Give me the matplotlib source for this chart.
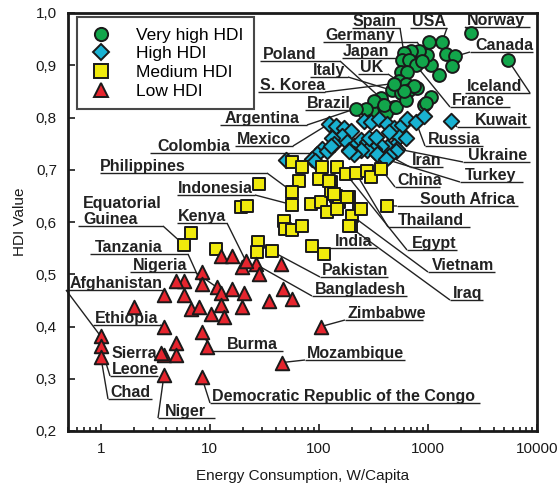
import matplotlib
matplotlib.use("Agg")
import matplotlib.pyplot as plt
from matplotlib.lines import Line2D
from matplotlib.ticker import FixedLocator, FixedFormatter, FuncFormatter, LogLocator, NullFormatter

plt.rcParams["font.family"] = ["Liberation Sans", "DejaVu Sans"]

# energy use per capita (W) and HDI, by HDI group
very_high_w = [2480, 5420, 1344, 1021, 1462, 1770, 1660, 1262, 1066, 979, 827, 698, 602, 577,
               669, 776, 881, 565, 641, 542, 628, 467, 565, 669, 793, 1066, 919, 370, 378,
               306, 488, 412, 320, 395, 508, 955, 628, 270, 218, 744, 602, 488]
very_high_hdi = [0.962, 0.910, 0.944, 0.944, 0.921, 0.917, 0.898, 0.881, 0.900, 0.919, 0.927,
                 0.927, 0.923, 0.910, 0.910, 0.900, 0.908, 0.888, 0.888, 0.869, 0.865, 0.852,
                 0.846, 0.852, 0.856, 0.840, 0.823, 0.837, 0.823, 0.813, 0.821, 0.808, 0.831,
                 0.823, 0.821, 0.827, 0.833, 0.817, 0.817, 0.860, 0.850, 0.865]

high_w = [124, 143, 170, 197, 163, 132, 107, 96, 86, 118, 137, 181, 210, 243, 275, 259, 300,
          355, 421, 488, 577, 641, 776, 919, 542, 488, 421, 370, 320, 275, 243, 210, 188, 288,
          334, 355, 439, 628, 520, 92, 129, 188, 341, 508, 1625, 439, 412, 50]
high_hdi = [0.788, 0.783, 0.779, 0.775, 0.765, 0.760, 0.740, 0.731, 0.721, 0.735, 0.750, 0.754,
            0.746, 0.756, 0.754, 0.794, 0.792, 0.798, 0.788, 0.779, 0.785, 0.798, 0.792, 0.802,
            0.763, 0.746, 0.744, 0.746, 0.740, 0.737, 0.737, 0.731, 0.737, 0.760, 0.763, 0.727,
            0.773, 0.760, 0.740, 0.717, 0.746, 0.735, 0.731, 0.735, 0.794, 0.727, 0.720, 0.719]

medium_w = [57, 70, 107, 146, 66, 57, 28.2, 57, 19.2, 21.9, 47.7, 48.7, 57, 70, 6.7, 5.8, 84,
            104, 104, 129, 129, 143, 153, 118, 146, 177, 218, 275, 300, 370, 188, 233, 201, 197,
            421, 86, 111, 27.6, 27, 37, 11.4, 100, 124, 137, 181, 243, 188]
medium_hdi = [0.715, 0.706, 0.706, 0.706, 0.679, 0.658, 0.673, 0.633, 0.629, 0.631, 0.602, 0.587,
              0.585, 0.592, 0.579, 0.556, 0.635, 0.638, 0.683, 0.677, 0.660, 0.650, 0.638, 0.619,
              0.625, 0.692, 0.694, 0.698, 0.687, 0.702, 0.648, 0.625, 0.612, 0.592, 0.631, 0.554,
              0.538, 0.562, 0.542, 0.544, 0.548, 0.683, 0.679, 0.654, 0.648, 0.625, 0.592]

low_w = [12.7, 15.8, 19.6, 26.4, 44.8, 28.2, 8.4, 5.8, 8.4, 11.6, 12.7, 15.8, 20.5, 47, 56.5,
         34.8, 2, 6.7, 7.9, 12.7, 19.6, 10.2, 13.4, 3.8, 8.4, 1, 1, 1, 3.8, 4.9, 4.9, 3.6, 9.4,
         45.8, 105, 3.8, 8.4, 3.8, 5.8, 4.9, 21.4]
low_hdi = [0.535, 0.535, 0.513, 0.519, 0.519, 0.500, 0.504, 0.487, 0.481, 0.475, 0.465, 0.471,
           0.465, 0.471, 0.452, 0.448, 0.437, 0.433, 0.437, 0.442, 0.437, 0.423, 0.418, 0.400,
           0.390, 0.381, 0.362, 0.342, 0.346, 0.369, 0.346, 0.350, 0.360, 0.331, 0.400, 0.308,
           0.304, 0.460, 0.460, 0.487, 0.525]

# labelled countries (W, HDI)
countries = {
    "Spain": (602, 0.923), "USA": (1344, 0.944), "Norway": (2480, 0.962),
    "Canada": (1770, 0.917), "Germany": (979, 0.919), "Japan": (669, 0.910),
    "Poland": (370, 0.837), "UK": (542, 0.869), "Italy": (467, 0.852),
    "S. Korea": (488, 0.865), "Brazil": (259, 0.794), "Argentina": (218, 0.817),
    "Mexico": (124, 0.788), "Colombia": (96, 0.731), "France": (776, 0.900),
    "Iceland": (5420, 0.910), "Kuwait": (1625, 0.794), "Russia": (776, 0.792),
    "Ukraine": (520, 0.740), "Iran": (439, 0.727), "Turkey": (412, 0.720),
    "China": (370, 0.702), "South Africa": (421, 0.631), "Thailand": (218, 0.694),
    "Egypt": (177, 0.692), "Vietnam": (201, 0.612), "Iraq": (188, 0.592),
    "India": (86, 0.554), "Pakistan": (37, 0.544), "Bangladesh": (26.4, 0.519),
    "Zimbabwe": (105, 0.400), "Mozambique": (45.8, 0.331),
    "Democratic Republic of the Congo": (8.4, 0.304), "Niger": (3.8, 0.308),
    "Burma": (8.4, 0.390), "Chad": (1, 0.342), "Sierra\nLeone": (1, 0.362),
    "Ethiopia": (3.8, 0.400), "Afghanistan": (1, 0.381), "Tanzania": (8.4, 0.481),
    "Nigeria": (11.6, 0.475), "Equatorial\nGuinea": (5.8, 0.556), "Kenya": (21.4, 0.525),
    "Indonesia": (57, 0.633), "Philippines": (57, 0.658),
}

# label layout in figure pixels: text left x, underline x0, x1, underline y, leader side
layout = {
    "Spain": (353, 352, 400, 28, "R"), "USA": (412, 410, 447, 28, "R"),
    "Norway": (467, 465, 530, 27, "L"), "Canada": (475, 470, 533, 52, "L"),
    "Germany": (325, 323, 417, 42, "R"), "Japan": (343, 342, 400, 58, "R"),
    "Poland": (263, 260, 340, 61, "R"), "UK": (360, 358, 388, 74, "R"),
    "Italy": (313, 310, 348, 77, "R"), "S. Korea": (260, 258, 325, 92, "R"),
    "Brazil": (307, 305, 352, 110, "R"), "Argentina": (225, 220, 307, 125, "R"),
    "Mexico": (237, 235, 293, 146, "R"), "Colombia": (157, 150, 310, 153, "R"),
    "France": (452, 450, 510, 107, "L"), "Iceland": (467, 465, 530, 93, "R"),
    "Kuwait": (475, 457, 530, 127, "L"), "Russia": (428, 425, 483, 146, "L"),
    "Ukraine": (468, 463, 530, 162, "L"), "Iran": (412, 410, 443, 167, "L"),
    "Turkey": (465, 460, 523, 182, "L"), "China": (397, 395, 440, 187, "L"),
    "South Africa": (420, 397, 518, 206, "L"), "Thailand": (398, 388, 470, 227, "L"),
    "Egypt": (412, 407, 457, 250, "L"), "Vietnam": (432, 428, 495, 272, "L"),
    "Iraq": (453, 450, 483, 300, "L"), "India": (335, 318, 377, 248, "L"),
    "Pakistan": (322, 320, 388, 277, "L"), "Bangladesh": (315, 312, 407, 296, "L"),
    "Zimbabwe": (347, 345, 423, 320, "L"), "Mozambique": (307, 305, 405, 360, "L"),
    "Democratic Republic of the Congo": (212, 210, 480, 403, "L"),
    "Niger": (165, 158, 215, 418, "L"), "Burma": (227, 212, 283, 351, "L"),
    "Chad": (110, 108, 152, 399, "L"), "Sierra\nLeone": (112, 110, 158, 376, "L"),
    "Ethiopia": (95, 93, 160, 325, "R"), "Afghanistan": (70, 66, 163, 290, "L"),
    "Tanzania": (95, 90, 188, 254, "R"), "Nigeria": (133, 130, 195, 272, "R"),
    "Equatorial\nGuinea": (83, 78, 163, 226, "R"), "Kenya": (178, 177, 227, 223, "R"),
    "Indonesia": (178, 177, 255, 195, "R"), "Philippines": (100, 100, 267, 173, "R"),
}

W, H = 557, 487
fig = plt.figure(figsize=(W / 100, H / 100), dpi=100)
ax = fig.add_axes([68 / W, 1 - 431 / H, (537 - 68) / W, (431 - 13) / H])
ax.set_xscale("log")
ax.set_xlim(0.5, 10000)
ax.set_ylim(0.2, 1.0)

edge = "#1a1a1a"
groups = [
    (very_high_w, very_high_hdi, "o", 85, "#12a64b", "Very high HDI"),
    (high_w, high_hdi, "D", 62, "#19b2d2", "High HDI"),
    (medium_w, medium_hdi, "s", 80, "#f0ea0c", "Medium HDI"),
    (low_w, low_hdi, "^", 95, "#e6252e", "Low HDI"),
]
handles = []
for i, (xs, ys, mk, s, col, lab) in enumerate(groups):
    ax.scatter(xs, ys, s=s, marker=mk, c=col, edgecolors=edge, linewidths=1.4, zorder=3 + i)
    handles.append(Line2D([], [], ls="", marker=mk, markersize=9.5 if mk != "D" else 8.5,
                          markerfacecolor=col, markeredgecolor=edge, markeredgewidth=1.4,
                          label=lab))


def at(x, y):
    # figure pixels (top-left origin) -> data coordinates
    return ax.transData.inverted().transform((x, H - y))


line_kw = dict(color="#222222", lw=1.0, clip_on=False, zorder=2, solid_capstyle="butt")
for name, (tx, ux0, ux1, uy, side) in layout.items():
    cx, cy = countries[name]
    lines = name.split("\n")
    for k, part in enumerate(reversed(lines)):
        ax.text(*at(tx, uy - 2 - 16 * k), part, ha="left", va="baseline",
                fontsize=11.5, fontweight="bold", color="#222222", zorder=8)
    (x0, y0), (x1, _) = at(ux0, uy), at(ux1, uy)
    ax.plot([x0, x1], [y0, y0], **line_kw)
    sx = x0 if side == "L" else x1
    ax.plot([sx, cx], [y0, cy], **line_kw)

leg = ax.legend(handles=handles, loc="upper left", bbox_to_anchor=(0.019, 0.99),
                fontsize=12.5, frameon=True, fancybox=False, edgecolor="#1a1a1a",
                handletextpad=1.2, labelspacing=0.2, borderpad=0.6, handlelength=1.6,
                borderaxespad=0)
leg.get_frame().set_linewidth(1.5)
leg.set_zorder(10)

ax.xaxis.set_major_locator(FixedLocator([1, 10, 100, 1000, 10000]))
ax.xaxis.set_major_formatter(FixedFormatter(["1", "10", "100", "1000", "10000"]))
ax.xaxis.set_minor_locator(LogLocator(base=10, subs=range(2, 10)))
ax.xaxis.set_minor_formatter(NullFormatter())
ax.yaxis.set_major_locator(FixedLocator([0.2, 0.3, 0.4, 0.5, 0.6, 0.7, 0.8, 0.9, 1.0]))
ax.yaxis.set_major_formatter(FuncFormatter(lambda v, _: f"{v:.1f}".replace(".", ",")))
ax.tick_params(which="both", direction="in", top=False, right=False, labelsize=11,
               color="#1a1a1a", labelcolor="#1a1a1a", width=1.2)
ax.tick_params(which="major", length=5, pad=8)
ax.tick_params(which="minor", length=3)
for sp in ax.spines.values():
    sp.set_linewidth(2)
    sp.set_color("#1a1a1a")

ax.set_xlabel("Energy Consumption, W/Capita", fontsize=11, color="#1a1a1a", labelpad=9)
ax.set_ylabel("HDI Value", fontsize=11, color="#1a1a1a", labelpad=6)

fig.savefig("out.png", dpi=100)
